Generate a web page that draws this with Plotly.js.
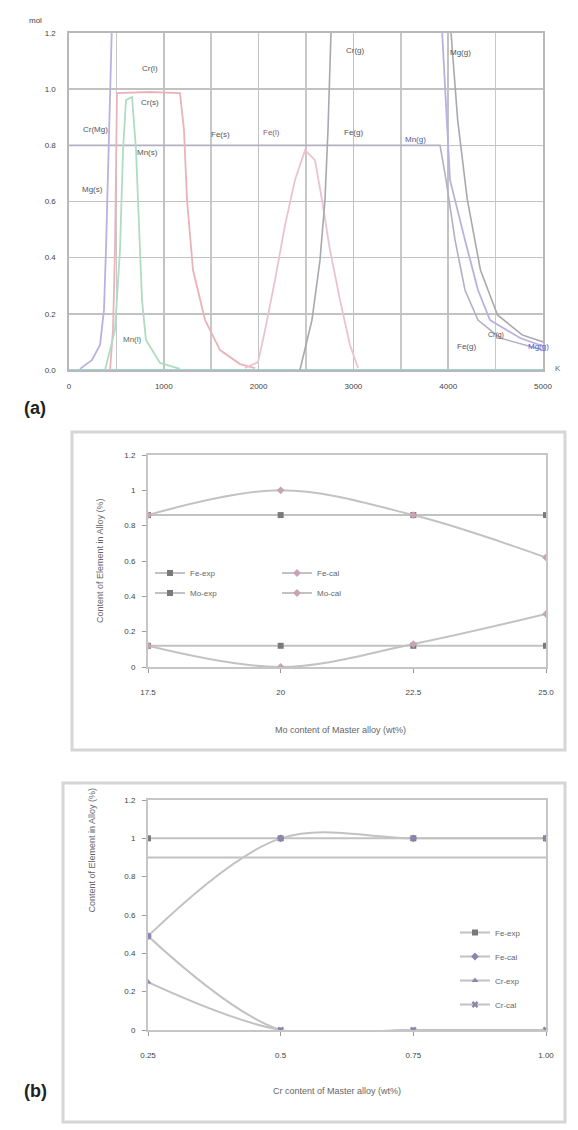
<!DOCTYPE html>
<html><head><meta charset="utf-8">
<script src="https://cdn.plot.ly/plotly-3.0.1.min.js"></script>
<style>html,body{margin:0;padding:0;background:#fff}#chart{width:578px;height:1130px}</style>
</head><body><div id="chart"></div>
<script>
// ---------- Panel (a): amount (mol) vs temperature ----------
const aXTicks = [0, 1000, 2000, 3000, 4000, 5000];
const aXTickText = ["0", "1000", "2000", "3000", "4000", "5000"];
const aYTicks = [0, 0.2, 0.4, 0.6, 0.8, 1.0, 1.2];
const aYTickText = ["0.0", "0.2", "0.4", "0.6", "0.8", "1.0", "1.2"];

const mgX = [116, 243, 327, 369, 390, 411, 433, 454, 700, 3700, 3935, 3977, 4019, 4177, 4314, 4441, 4758, 5000];
const mgY = [0.004, 0.036, 0.089, 0.214, 0.427, 0.677, 0.961, 1.246, 1.6, 1.6, 1.21, 0.961, 0.677, 0.463, 0.285, 0.178, 0.114, 0.085];

const crSX = [433, 464, 485, 496, 506, 854, 1171, 1213, 1245, 1308, 1435, 1593, 1804, 1962];
const crSY = [0.0, 0.142, 0.427, 0.783, 0.986, 0.99, 0.986, 0.854, 0.605, 0.356, 0.178, 0.071, 0.021, 0.007];

const mnX = [380, 485, 538, 570, 601, 665, 707, 738, 770, 812, 960, 1171];
const mnY = [0.0, 0.142, 0.427, 0.783, 0.961, 0.972, 0.783, 0.498, 0.249, 0.107, 0.025, 0.004];

const feLX = [1857, 1994, 2068, 2173, 2279, 2384, 2490, 2595, 2669, 2753, 2859, 2964, 3049];
const feLY = [0.007, 0.028, 0.142, 0.320, 0.516, 0.677, 0.783, 0.747, 0.605, 0.427, 0.249, 0.089, 0.007];

const feX = [0, 1593, 2500, 3914, 3977, 4072, 4177, 4314, 4547, 5000];
const feY = [0.80, 0.80, 0.80, 0.80, 0.677, 0.463, 0.285, 0.178, 0.114, 0.071];

const crGX = [2436, 2563, 2648, 2700, 2732, 2753, 2764, 2800, 3900, 4030, 4100, 4200, 4340, 4520, 4780, 5000];
const crGY = [0.0, 0.178, 0.392, 0.605, 0.854, 1.104, 1.246, 1.6, 1.6, 1.2, 0.89, 0.61, 0.356, 0.196, 0.125, 0.10];

const zeroX = [0, 5000];
const zeroY = [0, 0];

// ---------- Panel (b), upper chart ----------
const b1Cats = ["17.5", "20", "22.5", "25.0"];
const b1FeExp = [0.86, 0.86, 0.86, 0.86];
const b1FeCal = [0.86, 1.0, 0.86, 0.62];
const b1MoExp = [0.12, 0.12, 0.12, 0.12];
const b1MoCal = [0.12, 0.0, 0.13, 0.30];

// ---------- Panel (b), lower chart ----------
const b2Cats = ["0.25", "0.5", "0.75", "1.00"];
const b2FeExp = [1.0, 1.0, 1.0, 1.0];
const b2FeCal = [0.49, 1.0, 1.0, 1.0];
const b2CrExp = [0.25, 0.0, 0.0, 0.0];
const b2CrCal = [0.49, 0.0, 0.0, 0.0];
const b2Ref = [0.90, 0.90, 0.90, 0.90];

const FONT = "Liberation Sans, Arial, sans-serif";
const W = 578, H = 1130;
const px = v => v / W;
const py = v => 1 - v / H;

function aLine(x, y, color, width) {
  return {x: x, y: y, xaxis: "x", yaxis: "y", mode: "lines", type: "scatter",
    line: {color: color, width: width || 1.6}, showlegend: false, hoverinfo: "skip"};
}

const traces = [
  aLine(zeroX, zeroY, "#9fd3d3", 2.2),
  aLine(feX, feY, "#b4b0c4", 1.6),
  aLine(mgX, mgY, "#bcb0e0", 1.8),
  aLine(crSX, crSY, "#e8b3bb", 1.8),
  aLine(mnX, mnY, "#b0dcc2", 1.8),
  aLine(feLX, feLY, "#ebc2d2", 1.8),
  aLine(crGX, crGY, "#a8a8b0", 1.6)
];

function bTrace(cats, vals, name, xa, ya, leg, opts) {
  const t = {x: cats, y: vals, name: name, xaxis: xa, yaxis: ya, type: "scatter",
    mode: "lines+markers", legend: leg, legendgroup: name + xa,
    line: {color: opts.lc || "#c2c2c2", width: 2, shape: opts.shape || "linear", smoothing: 1},
    marker: {symbol: opts.sym || "square", size: opts.ms || 6, color: opts.mc || "#7a7a7a"},
    hoverinfo: "skip"};
  if (opts.nolegend) t.showlegend = false;
  return t;
}

traces.push(
  bTrace(b1Cats, b1FeExp, "Fe-exp", "x2", "y2", "legend", {mc: "#7a7a7a"}),
  bTrace(b1Cats, b1FeCal, "Fe-cal", "x2", "y2", "legend", {shape: "spline", mc: "#c9a3b3", sym: "diamond", ms: 6}),
  bTrace(b1Cats, b1MoExp, "Mo-exp", "x2", "y2", "legend2", {mc: "#7a7a7a"}),
  bTrace(b1Cats, b1MoCal, "Mo-cal", "x2", "y2", "legend2", {shape: "spline", mc: "#c9a3b3", sym: "diamond", ms: 6}),

  bTrace(b2Cats, b2Ref, "ref", "x3", "y3", "legend3", {mc: "rgba(0,0,0,0)", nolegend: true}),
  bTrace(b2Cats, b2FeExp, "Fe-exp", "x3", "y3", "legend3", {mc: "#7a7a7a"}),
  bTrace(b2Cats, b2FeCal, "Fe-cal", "x3", "y3", "legend3", {shape: "spline", mc: "#8a86ab", sym: "diamond"}),
  bTrace(b2Cats, b2CrExp, "Cr-exp", "x3", "y3", "legend3", {shape: "spline", mc: "#8a86ab", sym: "triangle-up"}),
  bTrace(b2Cats, b2CrCal, "Cr-cal", "x3", "y3", "legend3", {shape: "spline", mc: "#8a86ab", sym: "x"})
);

const tickFont = {family: FONT, size: 8, color: "#444"};

function bX(domain) {
  return {domain: domain, type: "category", range: [0, 3], showgrid: false, zeroline: false,
    showline: true, mirror: true, linecolor: "#c6c6c6", linewidth: 2,
    ticks: "outside", ticklen: 4, tickcolor: "#9a9a9a", ticklabelstandoff: 12,
    tickfont: tickFont, fixedrange: true};
}
function bY(domain, anchor) {
  return {domain: domain, anchor: anchor, range: [0, 1.2], dtick: 0.2, tick0: 0,
    showgrid: false, zeroline: false, showline: true, mirror: true,
    linecolor: "#c6c6c6", linewidth: 2, ticks: "outside", ticklen: 4, tickcolor: "#9a9a9a",
    ticklabelstandoff: 5, tickfont: tickFont, fixedrange: true};
}

const ann = (x, y, text, o) => Object.assign({xref: "x", yref: "y", x: x, y: y, text: text,
  showarrow: false, font: {family: FONT, size: 8, color: "#555"}}, o || {});
const pann = (x, y, text, o) => Object.assign({xref: "paper", yref: "paper", x: px(x), y: py(y),
  text: text, showarrow: false, font: {family: FONT, size: 9, color: "#666"}}, o || {});

const layout = {
  width: W, height: H, autosize: false,
  margin: {l: 0, r: 0, t: 0, b: 0},
  paper_bgcolor: "#ffffff", plot_bgcolor: "#ffffff",
  font: {family: FONT},
  xaxis: {domain: [px(69), px(543)], anchor: "y", range: [0, 5000],
    tickvals: aXTicks, ticktext: aXTickText, showgrid: true, gridcolor: "#c2c2c2", gridwidth: 1.6,
    minor: {dtick: 500, tick0: 0, showgrid: true, gridcolor: "#c8c8c8", gridwidth: 1.6},
    zeroline: false, showline: true, mirror: true, linecolor: "#b8b8b8", linewidth: 1.6,
    ticks: "", ticklabelstandoff: 8, tickfont: tickFont, fixedrange: true},
  yaxis: {domain: [py(370), py(33)], anchor: "x", range: [0, 1.2],
    tickvals: aYTicks, ticktext: aYTickText, showgrid: true, gridcolor: "#c2c2c2", gridwidth: 1.6,
    zeroline: false, showline: true, mirror: true, linecolor: "#b8b8b8", linewidth: 1.6,
    ticks: "", ticklabelstandoff: 10, tickfont: tickFont, fixedrange: true},
  xaxis2: Object.assign(bX([px(148), px(546)]), {anchor: "y2"}),
  yaxis2: bY([py(667), py(455)], "x2"),
  xaxis3: Object.assign(bX([px(148), px(546)]), {anchor: "y3"}),
  yaxis3: bY([py(1030), py(800)], "x3"),
  legend: {x: px(150), y: py(573), xanchor: "left", yanchor: "middle", orientation: "h",
    entrywidth: 82, entrywidthmode: "pixels", itemwidth: 30, bgcolor: "rgba(0,0,0,0)",
    font: {family: FONT, size: 8, color: "#666"}},
  legend2: {x: px(150), y: py(593), xanchor: "left", yanchor: "middle", orientation: "h",
    entrywidth: 82, entrywidthmode: "pixels", itemwidth: 30, bgcolor: "rgba(0,0,0,0)",
    font: {family: FONT, size: 8, color: "#666"}},
  legend3: {x: px(455), y: py(918), xanchor: "left", yanchor: "top", orientation: "v",
    itemwidth: 30, tracegroupgap: 5, bgcolor: "rgba(0,0,0,0)",
    font: {family: FONT, size: 8, color: "#666"}},
  shapes: [
    {type: "rect", xref: "paper", yref: "paper", x0: px(72), x1: px(565), y0: py(750), y1: py(432),
      line: {color: "#d6d6d6", width: 3}},
    {type: "rect", xref: "paper", yref: "paper", x0: px(63), x1: px(565), y0: py(1122), y1: py(783),
      line: {color: "#d6d6d6", width: 3}}
  ],
  annotations: [
    pann(27, 14, "mol", {font: {family: FONT, size: 8, color: "#444"}}),
    pann(563, 362, "K", {font: {family: FONT, size: 8, color: "#666"}}),
    ann(433, 0.855, "Cr(Mg)", {xanchor: "right"}),
    ann(243, 0.641, "Mg(s)"),
    ann(854, 1.075, "Cr(l)"),
    ann(854, 0.951, "Cr(s)"),
    ann(833, 0.776, "Mn(s)"),
    ann(1593, 0.84, "Fe(s)"),
    ann(2141, 0.847, "Fe(l)", {font: {family: FONT, size: 8, color: "#8a5a6a"}}),
    ann(3017, 1.139, "Cr(g)"),
    ann(4125, 1.132, "Mg(g)"),
    ann(3006, 0.844, "Fe(g)"),
    ann(3660, 0.819, "Mn(g)", {font: {family: FONT, size: 8, color: "#4a5aa8"}}),
    ann(675, 0.107, "Mn(l)", {font: {family: FONT, size: 8, color: "#4f6f5a"}}),
    ann(4188, 0.082, "Fe(g)"),
    ann(4504, 0.125, "Cr(g)", {font: {family: FONT, size: 7, color: "#555"}}),
    ann(4950, 0.085, "Mg(g)", {font: {family: FONT, size: 8, color: "#5a5ad0"}}),
    pann(22, 408, "<b>(a)</b>", {font: {family: FONT, size: 18, color: "#222"}}),
    pann(22, 1103, "<b>(b)</b>", {font: {family: FONT, size: 18, color: "#222"}}),
    pann(340, 730, "Mo content of Master alloy (wt%)"),
    pann(337, 1098, "Cr content of Master alloy (wt%)"),
    pann(93, 561, "Content of Element in Alloy (%)", {textangle: -90}),
    pann(84, 915, "Content of Element in Alloy (%)", {textangle: -90})
  ]
};

Plotly.newPlot("chart", traces, layout, {displayModeBar: false, staticPlot: true});
</script></body></html>
